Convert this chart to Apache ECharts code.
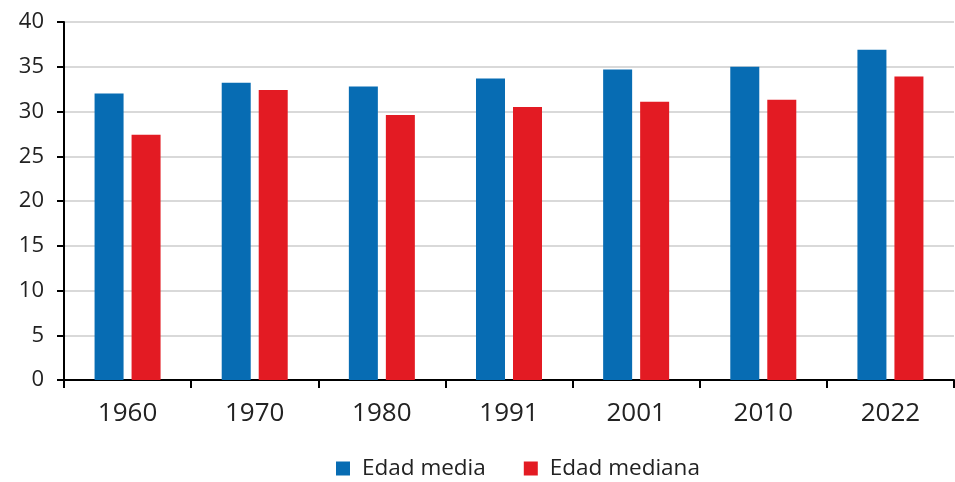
<!DOCTYPE html>
<html>
<head>
<meta charset="utf-8">
<script src="https://cdn.jsdelivr.net/npm/echarts@6/dist/echarts.min.js"></script>
<style>
html,body{margin:0;padding:0;background:#fff;}
#c{width:955px;height:482px;}
</style>
</head>
<body>
<div id="c"></div>
<script>
const categories = ['1960','1970','1980','1991','2001','2010','2022'];
const edadMedia = [32.0, 33.2, 32.8, 33.7, 34.7, 35.0, 36.9];
const edadMediana = [27.4, 32.4, 29.6, 30.5, 31.1, 31.3, 33.9];
const seriesNames = ['Edad media', 'Edad mediana'];

const chart = echarts.init(document.getElementById('c'));
const font = '"Open Sans", sans-serif';
chart.setOption({
  animation: false,
  textStyle: { fontFamily: font },
  grid: { left: 64, right: 1, top: 22, bottom: 102 },
  legend: {
    data: seriesNames,
    left: 336, top: 457, padding: 0,
    icon: 'rect', itemWidth: 14, itemHeight: 14, itemGap: 38,
    textStyle: { fontSize: 22.5, color: '#222', fontFamily: font, padding: [0,0,0,7] }
  },
  xAxis: {
    type: 'category', data: categories,
    axisLine: { lineStyle: { color: '#000', width: 2 } },
    axisTick: { show: true, length: 8, lineStyle: { color: '#000', width: 2 } },
    axisLabel: { fontSize: 26, color: '#222', margin: 21, fontFamily: font }
  },
  yAxis: {
    type: 'value', min: 0, max: 40, interval: 5,
    axisLine: { show: true, lineStyle: { color: '#000', width: 2 } },
    axisTick: { show: true, length: 7, lineStyle: { color: '#000', width: 2 } },
    axisLabel: { fontSize: 22, color: '#222', margin: 20, fontFamily: font },
    splitLine: { lineStyle: { color: '#d9d9d9', width: 2 } }
  },
  series: [
    { name: seriesNames[0], type: 'bar', data: edadMedia, barWidth: 29, barGap: '27.6%', itemStyle: { color: '#076cb3' } },
    { name: seriesNames[1], type: 'bar', data: edadMediana, barWidth: 29, itemStyle: { color: '#e31b23' } }
  ]
});
</script>
</body>
</html>
